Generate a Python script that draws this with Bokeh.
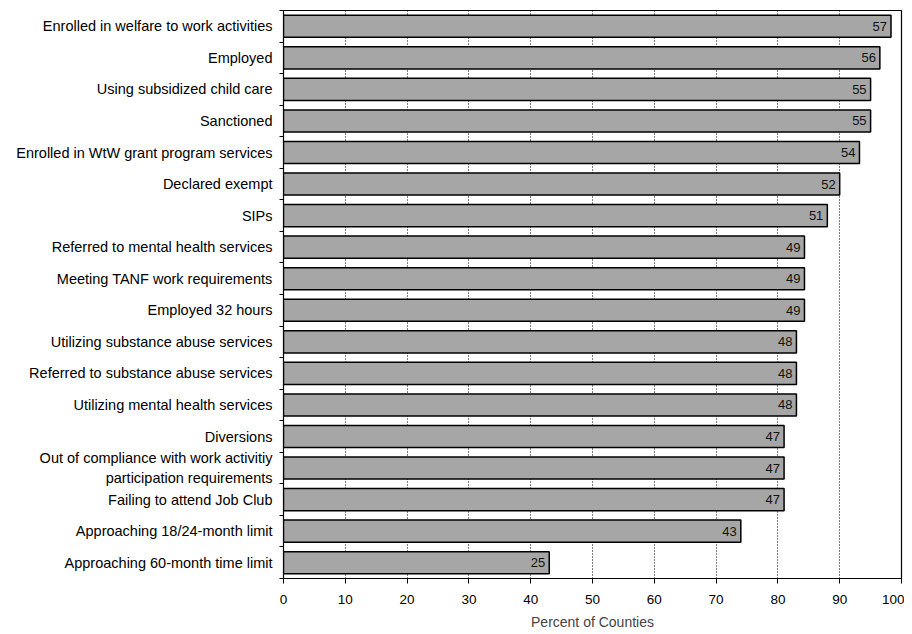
from bokeh.plotting import figure
from bokeh.models import ColumnDataSource, FixedTicker, Range1d, LinearAxis
from bokeh.core.properties import value
from bokeh.embed import file_html
from bokeh.resources import INLINE

categories = [
    "Enrolled in welfare to work activities",
    "Employed",
    "Using subsidized child care",
    "Sanctioned",
    "Enrolled in WtW grant program services",
    "Declared exempt",
    "SIPs",
    "Referred to mental health services",
    "Meeting TANF work requirements",
    "Employed 32 hours",
    "Utilizing substance abuse services",
    "Referred to substance abuse services",
    "Utilizing mental health services",
    "Diversions",
    "Out of compliance with work activitiy\nparticipation requirements",
    "Failing to attend Job Club",
    "Approaching 18/24-month limit",
    "Approaching 60-month time limit",
]
percent = [98.3, 96.5, 95.0, 95.0, 93.2, 90.0, 88.0, 84.3, 84.3, 84.3,
           83.0, 83.0, 83.0, 81.0, 81.0, 81.0, 74.0, 43.0]
counts = [57, 56, 55, 55, 54, 52, 51, 49, 49, 49, 48, 48, 48, 47, 47, 47, 43, 25]
x_ticks = [0, 10, 20, 30, 40, 50, 60, 70, 80, 90, 100]

FONT = "Liberation Sans"
n = len(categories)
idx = list(range(n))

src = ColumnDataSource(dict(pos=idx, pct=percent,
                            lab=[str(c) for c in counts]))

p = figure(y_range=Range1d(n - 0.5, -0.5), x_range=Range1d(0, 100),
           width=904, height=632, output_backend="svg", toolbar_location=None,
           min_border_left=283, min_border_right=3, min_border_top=10,
           min_border_bottom=52, y_axis_location=None)

p.hbar(y="pos", right="pct", left=0, height=0.7, source=src,
       fill_color="#a6a6a6", line_color="black", line_width=1.5)

p.text(x="pct", y="pos", text="lab", source=src, x_offset=-4,
       text_align="right", text_baseline="middle", text_font=value(FONT),
       text_font_size="13px", text_color="#111111")

p.outline_line_color = "black"
p.outline_line_width = 1.2

p.xgrid.ticker = FixedTicker(ticks=x_ticks)
p.xgrid.grid_line_color = "black"
p.xgrid.grid_line_dash = "1 2"
p.xgrid.grid_line_width = 1
p.ygrid.grid_line_color = None

p.xaxis.ticker = FixedTicker(ticks=x_ticks)
p.xaxis.axis_label = "Percent of Counties"
p.xaxis.axis_label_text_font = FONT
p.xaxis.axis_label_text_font_style = "normal"
p.xaxis.axis_label_text_font_size = "14px"
p.xaxis.axis_label_standoff = 7
p.xaxis.major_label_text_font = FONT
p.xaxis.major_label_text_font_size = "13.5px"
p.xaxis.major_label_text_color = "black"
p.xaxis.major_label_standoff = 11
p.xaxis.major_tick_in = 0
p.xaxis.major_tick_out = 5
p.xaxis.minor_tick_line_color = None
p.xaxis.axis_line_color = "black"

# category-boundary tick marks on the left edge (no labels)
bounds = [i - 0.5 for i in range(n + 1)]
bax = LinearAxis(ticker=FixedTicker(ticks=bounds),
                 major_label_overrides={b: "" for b in bounds},
                 major_label_standoff=0, major_tick_out=4, major_tick_in=0,
                 minor_tick_line_color=None, axis_line_color="black",
                 major_tick_line_color="black", major_label_text_font_size="1px")

# category labels
cax = LinearAxis(ticker=FixedTicker(ticks=idx),
                 major_label_overrides={i: c for i, c in enumerate(categories)},
                 major_label_text_font=FONT, major_label_text_font_size="14.5px",
                 major_label_text_color="black", major_tick_line_color=None,
                 major_tick_out=0, major_tick_in=0, minor_tick_line_color=None,
                 major_label_standoff=7, axis_line_color=None)

p.add_layout(bax, "left")
p.add_layout(cax, "left")

p.background_fill_color = "white"
p.border_fill_color = "white"

open("out.html", "w").write(file_html(p, INLINE))
